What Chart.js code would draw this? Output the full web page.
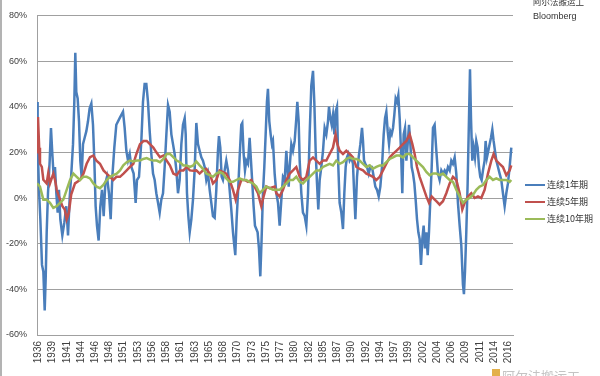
<!DOCTYPE html>
<html>
<head>
<meta charset="utf-8">
<script src="https://cdn.jsdelivr.net/npm/chart.js@4.4.0/dist/chart.umd.min.js"></script>
<style>
  html, body { margin: 0; padding: 0; background: #fff; }
  #wrap { position: relative; width: 600px; height: 376px; }
</style>
</head>
<body>
<div id="wrap"><canvas id="chart" width="600" height="376"></canvas></div>
<script>
// category labels shown under the x axis
const xLabels = ['1936','1939','1941','1944','1946','1948','1951','1953','1956','1958','1961','1963','1965','1968','1970','1973','1975','1977','1980','1982','1985','1987','1990','1992','1994','1997','1999','2002','2004','2006','2009','2011','2014','2016'];

const seriesNames = ['连续1年期', '连续5年期', '连续10年期'];
const seriesColors = ['#4a7ebb', '#c0504d', '#9bbb59'];

// 连续1年期 (rolling 1-year return, %)
const yrs1 = [1936.58,1936.69,1936.92,1937.15,1937.43,1937.66,1937.89,1938.06,1938.23,1938.45,1938.74,1938.96,1939.19,1939.42,1939.64,1939.87,1940.10,1940.32,1940.55,1940.89,1941.23,1941.57,1941.86,1942.14,1942.42,1942.71,1942.93,1943.10,1943.27,1943.50,1943.73,1943.95,1944.18,1944.41,1944.69,1944.98,1945.26,1945.54,1945.83,1946.11,1946.34,1946.56,1946.79,1947.07,1947.36,1947.64,1947.93,1948.21,1948.49,1948.83,1949.12,1949.40,1949.74,1950.08,1950.65,1951.22,1951.50,1951.79,1952.07,1952.36,1952.64,1953.03,1953.37,1953.60,1953.94,1954.34,1954.62,1954.90,1955.19,1955.47,1955.76,1956.04,1956.33,1956.61,1956.89,1957.18,1957.46,1957.74,1958.03,1958.31,1958.60,1958.88,1959.16,1959.45,1959.73,1960.01,1960.30,1960.58,1960.86,1961.15,1961.43,1961.72,1961.89,1962.11,1962.34,1962.57,1962.85,1963.13,1963.41,1963.70,1963.98,1964.26,1964.55,1964.83,1965.12,1965.40,1965.68,1965.97,1966.25,1966.53,1966.82,1967.10,1967.38,1967.55,1967.78,1968.01,1968.23,1968.52,1968.80,1969.09,1969.37,1969.65,1969.94,1970.16,1970.33,1970.56,1970.79,1971.07,1971.35,1971.52,1971.75,1971.98,1972.21,1972.49,1972.77,1973.00,1973.23,1973.45,1973.68,1973.91,1974.13,1974.36,1974.59,1974.81,1975.04,1975.27,1975.50,1975.72,1975.89,1976.12,1976.35,1976.57,1976.74,1977.03,1977.32,1977.60,1977.88,1978.17,1978.45,1978.74,1979.02,1979.19,1979.42,1979.59,1979.87,1980.15,1980.44,1980.72,1980.89,1981.12,1981.29,1981.57,1981.85,1982.14,1982.42,1982.71,1982.99,1983.27,1983.56,1983.78,1984.01,1984.24,1984.46,1984.69,1984.97,1985.26,1985.54,1985.83,1986.11,1986.28,1986.51,1986.73,1986.96,1987.19,1987.41,1987.64,1987.87,1988.09,1988.38,1988.66,1988.89,1989.12,1989.34,1989.57,1989.80,1990.08,1990.36,1990.54,1990.77,1991.05,1991.33,1991.62,1991.90,1992.07,1992.24,1992.47,1992.75,1993.04,1993.32,1993.60,1993.89,1994.17,1994.45,1994.74,1995.02,1995.30,1995.59,1995.82,1996.04,1996.27,1996.50,1996.72,1996.95,1997.18,1997.40,1997.63,1997.86,1998.08,1998.31,1998.54,1998.76,1998.99,1999.22,1999.45,1999.67,1999.90,2000.13,2000.35,2000.58,2000.81,2001.03,2001.26,2001.49,2001.71,2001.94,2002.17,2002.39,2002.62,2002.85,2003.08,2003.30,2003.53,2003.76,2003.98,2004.26,2004.55,2004.83,2005.11,2005.40,2005.68,2005.97,2006.25,2006.53,2006.82,2007.10,2007.38,2007.67,2007.95,2008.23,2008.52,2008.80,2009.08,2009.25,2009.43,2009.65,2009.88,2010.11,2010.28,2010.45,2010.67,2010.90,2011.13,2011.35,2011.58,2011.81,2012.03,2012.26,2012.49,2012.77,2012.94,2013.17,2013.40,2013.62,2013.85,2014.08,2014.30,2014.53,2014.76,2015.04,2015.32,2015.61,2015.89,2016.18,2016.46,2016.74,2017.03,2017.31];
const ret1 = [42.1,23.6,3.6,-9.3,-29.3,-32.2,-49.3,-35.0,-15.0,2.1,16.4,30.7,19.3,9.3,13.6,2.1,-6.4,3.6,-9.3,-16.4,-10.7,-3.6,-16.4,0,10.7,23.6,42.1,63.6,46.4,43.6,33.6,16.4,9.3,23.6,26.4,29.3,33.6,39.3,41.4,32.1,16.4,-3.6,-12.1,-18.6,-3.6,3.6,-7.9,6.4,9.3,2.1,-9.3,9.3,22.1,32.1,35.0,37.8,30.7,20.7,16.4,19.3,13.6,10.7,-2.1,7.9,9.3,25.0,42.1,50.0,50.0,42.1,29.3,19.3,10.7,7.9,2.1,-2.1,-6.4,-0.7,2.1,13.6,27.9,40.7,37.8,27.9,23.6,19.3,12.1,2.1,7.9,23.6,32.1,35.0,27.9,2.1,-7.9,-15.0,-9.3,-0.7,12.0,32.9,23.6,20.7,17.8,16.4,13.6,7.9,10.7,3.6,-2.1,-7.9,-8.6,3.6,20.7,27.1,22.1,9.3,7.9,12.1,16.4,12.1,3.6,-5.0,-15.0,-20.7,-25.0,-9.3,2.1,17.8,32.1,32.9,19.3,12.1,16.4,15.0,26.4,16.4,6.4,-3.6,-12.1,-13.6,-15.0,-22.1,-34.3,-17.9,2.1,13.6,27.9,42.1,47.8,33.6,27.9,23.6,25.0,10.7,2.1,-2.1,-12.1,-0.7,9.3,7.9,20.7,13.6,5.0,13.6,23.6,20.7,25.0,35.0,42.1,33.6,16.4,2.1,-6.4,-7.9,-12.1,2.1,27.9,49.3,55.7,42.1,20.7,6.4,-5.0,7.9,13.6,20.7,30.7,27.9,33.6,40.0,35.0,32.1,36.4,27.9,37.8,40.0,13.6,-2.1,-6.4,-13.6,2.1,13.6,17.8,19.3,16.4,17.8,15.0,3.6,-9.3,9.3,17.8,23.6,30.7,25.0,16.4,15.0,13.6,10.7,13.6,13.6,9.3,5.0,3.6,0.7,5.0,13.6,27.9,35.0,37.8,29.3,23.6,29.3,27.9,30.7,36.4,43.6,42.1,45.0,35.0,20.7,2.1,27.9,30.7,16.4,23.6,32.1,23.6,13.6,10.7,6.4,-0.7,-9.3,-15.0,-17.9,-29.3,-17.9,-12.1,-22.1,-15.0,-25.0,-15.0,-0.7,13.6,30.7,32.1,20.7,10.7,7.9,12.1,10.7,12.1,10.7,13.6,12.1,16.4,15.0,17.8,10.7,-2.1,-12.1,-20.7,-37.9,-42.1,-32.2,-15.0,6.4,35.0,56.4,35.0,16.4,22.1,17.8,25.0,22.1,13.6,9.3,7.9,12.1,16.4,25.0,17.8,20.7,23.6,26.4,30.0,25.0,20.7,16.4,13.6,10.7,7.9,2.1,-3.6,2.1,6.4,13.6,22.1];

// 连续5年期 (rolling 5-year annualised return, %)
const yrs5 = [1936.58,1936.75,1936.95,1937.09,1937.40,1937.66,1938.22,1938.50,1938.79,1939.36,1939.65,1939.93,1940.50,1940.90,1941.30,1941.63,1942.00,1942.40,1943.05,1943.90,1944.50,1945.03,1945.60,1946.17,1946.70,1947.30,1947.90,1948.44,1949.00,1949.57,1950.10,1950.71,1951.30,1951.84,1952.40,1952.98,1953.50,1954.11,1954.70,1955.25,1955.80,1956.38,1956.90,1957.51,1958.10,1958.65,1959.20,1959.78,1960.35,1960.92,1961.50,1962.05,1962.60,1963.19,1963.70,1964.26,1964.83,1965.40,1965.97,1966.53,1967.10,1967.67,1968.23,1968.80,1969.37,1969.94,1970.39,1970.79,1971.35,1971.92,1972.49,1973.06,1973.62,1974.19,1974.76,1975.15,1975.61,1976.18,1977.03,1977.32,1977.88,1978.45,1979.02,1979.59,1980.15,1980.72,1981.29,1981.85,1982.42,1982.99,1983.56,1984.12,1984.69,1985.26,1985.83,1986.39,1986.96,1987.41,1987.70,1988.09,1988.66,1989.23,1989.80,1990.37,1990.94,1991.50,1992.07,1992.64,1993.21,1993.77,1994.34,1994.91,1995.47,1996.04,1996.61,1997.18,1997.74,1998.31,1998.88,1999.45,2000.01,2000.47,2000.86,2001.26,2001.71,2002.28,2002.85,2003.30,2003.76,2004.27,2004.55,2005.11,2005.68,2006.25,2006.82,2007.38,2007.95,2008.52,2008.97,2009.37,2009.94,2010.50,2011.07,2011.64,2012.20,2012.77,2013.34,2013.91,2014.30,2014.76,2015.32,2015.89,2016.46,2017.03,2017.31];
const ret5 = [20.0,35.5,22.0,15.0,13.6,8.0,6.4,11.0,6.4,10.7,7.9,3.6,-0.7,-3.6,-5.0,-9.3,-6.4,1.5,6.4,7.9,10.7,15.0,17.9,18.6,16.4,15.0,12.1,10.7,9.3,7.9,9.3,9.3,10.7,12.1,13.6,15.0,19.3,23.6,25.0,25.0,23.6,22.1,20.0,17.9,18.6,16.4,14.3,10.7,10.0,12.1,12.1,13.6,12.1,12.0,12.1,10.7,12.1,12.8,10.7,6.4,7.9,12.1,11.4,10.7,7.9,3.6,-0.7,3.6,7.9,7.9,7.1,7.9,5.0,2.1,-3.6,0.7,5.0,4.3,5.0,2.1,0.7,3.6,7.9,10.7,12.1,13.6,9.3,7.9,9.3,16.4,17.8,16.4,15.0,16.4,16.4,19.3,22.1,27.9,23.6,20.7,19.3,20.7,19.3,17.8,13.6,12.8,12.1,10.7,10.0,9.3,7.9,9.3,12.1,15.0,17.8,19.3,20.7,22.1,23.6,25.0,27.9,23.6,19.3,13.6,9.3,5.0,0.7,-2.1,0.7,-0.7,-1.4,-2.9,-1.4,2.1,6.4,9.3,7.9,2.1,-5.0,-2.1,0.7,2.1,0,0.7,0,3.6,10.7,16.4,19.3,16.4,15.0,13.6,10.0,12.1,14.3];

// 连续10年期 (rolling 10-year annualised return, %)
const yrs10 = [1936.58,1937.09,1937.66,1938.22,1938.79,1939.36,1939.93,1940.50,1941.06,1941.63,1942.20,1942.77,1943.34,1943.90,1944.46,1945.03,1945.60,1946.17,1946.73,1947.30,1947.87,1948.44,1949.00,1949.57,1950.14,1950.71,1951.27,1951.84,1952.41,1952.98,1953.54,1954.11,1954.68,1955.25,1955.81,1956.38,1956.95,1957.51,1958.08,1958.65,1959.21,1959.78,1960.35,1960.92,1961.48,1962.05,1962.62,1963.19,1963.70,1964.26,1964.83,1965.40,1965.97,1966.53,1967.10,1967.67,1968.23,1968.80,1969.37,1969.94,1970.50,1971.07,1971.64,1972.20,1972.77,1973.34,1973.91,1974.47,1975.04,1975.61,1976.18,1976.75,1977.32,1977.88,1978.45,1979.02,1979.59,1980.15,1980.72,1981.29,1981.85,1982.42,1982.99,1983.56,1984.12,1984.69,1985.26,1985.83,1986.39,1986.96,1987.52,1988.09,1988.66,1989.23,1989.80,1990.37,1990.94,1991.50,1992.07,1992.64,1993.21,1993.77,1994.34,1994.91,1995.47,1996.04,1996.61,1997.18,1997.74,1998.31,1998.88,1999.45,2000.01,2000.58,2001.15,2001.71,2002.28,2002.85,2003.41,2003.98,2004.55,2005.11,2005.68,2006.25,2006.82,2007.38,2007.95,2008.52,2009.08,2009.65,2010.22,2010.78,2011.35,2011.92,2012.49,2013.06,2013.62,2014.19,2014.76,2015.32,2015.89,2016.46,2017.03,2017.31];
const ret10 = [6.4,5.0,-0.7,-0.7,-2.1,-4.3,-3.6,-2.1,-0.7,3.6,7.9,10.7,9.3,7.9,9.3,9.3,8.6,6.4,5.0,4.3,5.7,7.9,9.3,10.0,10.7,12.1,14.3,15.7,16.4,16.0,16.4,16.4,17.1,17.5,16.8,16.4,16.4,15.7,17.1,19.3,19.3,17.9,16.4,15.7,14.3,14.3,13.6,14.3,16.0,14.3,12.8,10.7,10.0,9.3,10.7,11.4,10.7,8.6,7.1,7.1,7.9,8.6,7.9,7.9,7.1,6.4,5.0,2.1,3.6,5.0,4.3,3.6,3.6,3.6,5.0,6.4,7.9,7.9,9.3,7.1,6.4,7.9,9.3,10.7,12.1,12.1,13.6,14.3,15.0,14.3,16.4,15.0,15.7,17.1,17.8,17.1,17.1,16.4,15.0,13.6,14.3,12.8,13.6,14.3,14.3,15.7,17.1,17.8,18.6,18.6,17.8,19.3,19.3,17.8,16.4,15.0,13.6,11.4,10.0,10.7,10.7,10.0,10.7,9.3,7.9,7.1,3.6,0.7,-2.1,-0.7,0,1.4,3.6,5.0,5.7,7.9,9.3,7.9,8.6,7.9,7.9,7.9,7.1,7.9];

// where the year labels sit along the time axis
const tickStart = 1936.8;
const tickStep = 2.424;

const toPoints = (xs, ys) => xs.map((t, i) => ({ x: t, y: ys[i] }));

const sideNotes = {
    id: 'sideNotes',
    afterDraw(chart) {
        const ctx = chart.ctx;
        ctx.save();
        // frame line on the left edge
        ctx.strokeStyle = '#9a9a9a';
        ctx.lineWidth = 1.5;
        ctx.beginPath();
        ctx.moveTo(1, 0);
        ctx.lineTo(1, 376);
        ctx.stroke();

        // legend
        const legendY = [185, 202, 219];
        ctx.font = "9px 'Noto Sans CJK SC', sans-serif";
        ctx.textBaseline = 'middle';
        ctx.textAlign = 'left';
        seriesNames.forEach((name, i) => {
            ctx.strokeStyle = seriesColors[i];
            ctx.lineWidth = 2;
            ctx.beginPath();
            ctx.moveTo(525, legendY[i]);
            ctx.lineTo(545, legendY[i]);
            ctx.stroke();
            ctx.fillStyle = '#333';
            ctx.fillText(name, 547, legendY[i]);
        });

        // source note, top right
        ctx.fillStyle = '#333';
        ctx.font = "8.5px 'Noto Sans CJK SC', sans-serif";
        ctx.fillText('阿尔法搬运工', 533, 2);
        ctx.font = "9px 'Liberation Sans', Arial, sans-serif";
        ctx.fillText('Bloomberg', 533, 17);

        // faint watermark at the bottom
        ctx.fillStyle = '#e3b04b';
        ctx.fillRect(492, 369, 8, 7);
        ctx.fillStyle = '#c4c4c4';
        ctx.font = "13px 'Noto Sans CJK SC', sans-serif";
        ctx.fillText('阿尔法搬运工', 502, 376);
        ctx.restore();
    }
};

const ctx = document.getElementById('chart');

new Chart(ctx, {
    type: 'line',
    data: {
        datasets: [
            {
                label: seriesNames[0],
                data: toPoints(yrs1, ret1),
                borderColor: seriesColors[0],
                borderWidth: 2.5,
                pointRadius: 0,
                tension: 0,
                order: 2
            },
            {
                label: seriesNames[1],
                data: toPoints(yrs5, ret5),
                borderColor: seriesColors[1],
                borderWidth: 2.5,
                pointRadius: 0,
                tension: 0,
                order: 1
            },
            {
                label: seriesNames[2],
                data: toPoints(yrs10, ret10),
                borderColor: seriesColors[2],
                borderWidth: 2.5,
                pointRadius: 0,
                tension: 0,
                order: 0
            }
        ]
    },
    options: {
        responsive: false,
        animation: false,
        layout: {
            padding: { top: 8, right: 87, left: 0, bottom: 0 }
        },
        plugins: {
            legend: { display: false },
            tooltip: { enabled: false }
        },
        scales: {
            x: {
                type: 'linear',
                min: 1936.58,
                max: 2017.6,
                afterBuildTicks: function(scale) {
                    scale.ticks = xLabels.map((_, i) => ({ value: tickStart + i * tickStep }));
                },
                afterFit: function(scale) {
                    scale.height = 41;
                },
                grid: { display: false, drawTicks: false },
                border: { color: '#a0a0a0', width: 1 },
                ticks: {
                    autoSkip: false,
                    minRotation: 90,
                    maxRotation: 90,
                    padding: 6,
                    color: '#404040',
                    font: { size: 10, family: "'Liberation Sans', Arial, sans-serif" },
                    callback: function(value, index) {
                        return xLabels[index];
                    }
                }
            },
            y: {
                min: -60,
                max: 80,
                afterFit: function(scale) {
                    scale.width = 37;
                },
                grid: { color: '#a0a0a0', lineWidth: 1, drawTicks: false },
                border: { color: '#a0a0a0', width: 1 },
                ticks: {
                    stepSize: 20,
                    padding: 10,
                    color: '#404040',
                    font: { size: 9, family: "'Liberation Sans', Arial, sans-serif" },
                    callback: function(value) {
                        return value + '%';
                    }
                }
            }
        }
    },
    plugins: [sideNotes]
});
</script>
</body>
</html>
